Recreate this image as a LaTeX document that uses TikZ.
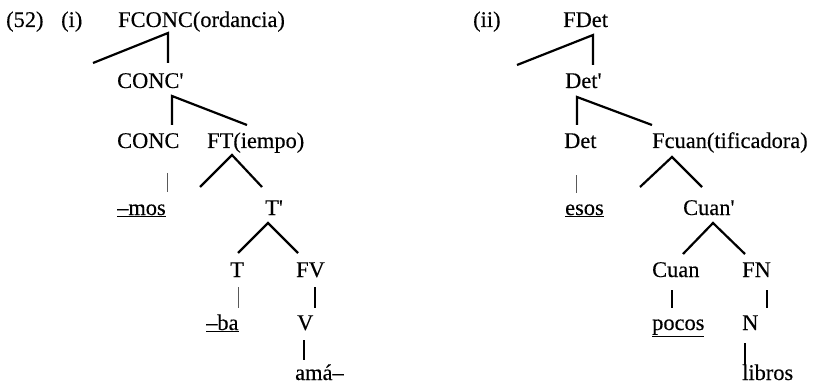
\documentclass[tikz,border=0pt]{standalone}
\usepackage{fontspec}
\setmainfont{Liberation Serif}[FakeBold=0.3]
\begin{document}
\begin{tikzpicture}[x=1pt,y=-1pt,
  lbl/.style={anchor=base west,inner sep=0pt,font=\fontsize{22.4}{26}\selectfont},
  branch/.style={line width=2.2pt},
  stem/.style={line width=1.6pt},
  faint/.style={line width=0.9pt,black!65}]
\useasboundingbox (0,0) rectangle (814,385);

% ---------- (i) ----------
\node[lbl] (ex)      at (6,27)    {(52)};
\node[lbl] (exi)     at (61,27)   {(i)};
\node[lbl] (fconc)   at (118,27)  {FCONC(ordancia)};
\node[lbl] (concbar) at (117,88)  {CONC\textquotesingle};
\node[lbl] (conc)    at (117,148) {CONC};
\node[lbl] (ft)      at (207,148) {FT(iempo)};
\node[lbl] (mos)     at (117,215) {\underline{–mos}};
\node[lbl] (tbar)    at (265,215) {T\textquotesingle};
\node[lbl] (t)       at (230,277) {T};
\node[lbl] (fv)      at (296,277) {FV};
\node[lbl] (ba)      at (206,330) {\underline{–ba}};
\node[lbl] (v)       at (297,330) {V};
\node[lbl] (ama)     at (295,380) {amá–};

% branch points and line ends of (i)
\coordinate (fconc-b) at (168,33);
\coordinate (fconc-l) at (93,63);
\coordinate (fconc-d) at (168,63);
\coordinate (concbar-b) at (172,96);
\coordinate (concbar-d) at (172,125);
\coordinate (concbar-r) at (247,125);
\coordinate (ft-b) at (232,155);
\coordinate (ft-l) at (200,187);
\coordinate (ft-r) at (262,187);
\coordinate (conc-s) at (167,173);
\coordinate (mos-n) at (167,192);
\coordinate (tbar-b) at (268,223);
\coordinate (tbar-l) at (238,253);
\coordinate (tbar-r) at (298,253);
\coordinate (t-s) at (238,287);
\coordinate (ba-n) at (238,308);
\coordinate (fv-s) at (315,287);
\coordinate (v-n) at (315,308);
\coordinate (v-s) at (304,340);
\coordinate (ama-n) at (304,360);

\draw[branch] (fconc-l) -- (fconc-b) -- (fconc-d);
\draw[branch] (concbar-d) -- (concbar-b) -- (concbar-r);
\draw[branch] (ft-l) -- (ft-b) -- (ft-r);
\draw[faint]  (conc-s) -- (mos-n);
\draw[branch] (tbar-l) -- (tbar-b) -- (tbar-r);
\draw[faint]  (t-s) -- (ba-n);
\draw[stem]   (fv-s) -- (v-n);
\draw[stem]   (v-s) -- (ama-n);

% ---------- (ii) ----------
\node[lbl] (exii)    at (473,27)  {(ii)};
\node[lbl] (fdet)    at (563,27)  {FDet};
\node[lbl] (detbar)  at (565,88)  {Det\textquotesingle};
\node[lbl] (det)     at (564,148) {Det};
\node[lbl] (fcuan)   at (652,148) {Fcuan(tificadora)};
\node[lbl] (esos)    at (565,215) {\underline{esos}};
\node[lbl] (cuanbar) at (683,215) {Cuan\textquotesingle};
\node[lbl] (cuan)    at (652,277) {Cuan};
\node[lbl] (fn)      at (742,277) {FN};
\node[lbl] (pocos)   at (652,330) {\underline{pocos}};
\node[lbl] (n)       at (742,330) {N};
\node[lbl] (libros)  at (742,380) {libros};

% branch points and line ends of (ii)
\coordinate (fdet-b) at (593,35);
\coordinate (fdet-l) at (517,65);
\coordinate (fdet-d) at (593,65);
\coordinate (detbar-b) at (577,97);
\coordinate (detbar-d) at (577,125);
\coordinate (detbar-r) at (652,125);
\coordinate (fcuan-b) at (672,157);
\coordinate (fcuan-l) at (640,187);
\coordinate (fcuan-r) at (702,187);
\coordinate (det-s) at (576,175);
\coordinate (esos-n) at (576,193);
\coordinate (cuanbar-b) at (713,223);
\coordinate (cuanbar-l) at (683,254);
\coordinate (cuanbar-r) at (745,254);
\coordinate (cuan-s) at (672,290);
\coordinate (pocos-n) at (672,308);
\coordinate (fn-s) at (767,290);
\coordinate (n-n) at (767,308);
\coordinate (n-s) at (745,343);
\coordinate (libros-n) at (745,365);

\draw[branch] (fdet-l) -- (fdet-b) -- (fdet-d);
\draw[branch] (detbar-d) -- (detbar-b) -- (detbar-r);
\draw[branch] (fcuan-l) -- (fcuan-b) -- (fcuan-r);
\draw[faint]  (det-s) -- (esos-n);
\draw[branch] (cuanbar-l) -- (cuanbar-b) -- (cuanbar-r);
\draw[stem]   (cuan-s) -- (pocos-n);
\draw[stem]   (fn-s) -- (n-n);
\draw[stem]   (n-s) -- (libros-n);
\end{tikzpicture}
\end{document}
